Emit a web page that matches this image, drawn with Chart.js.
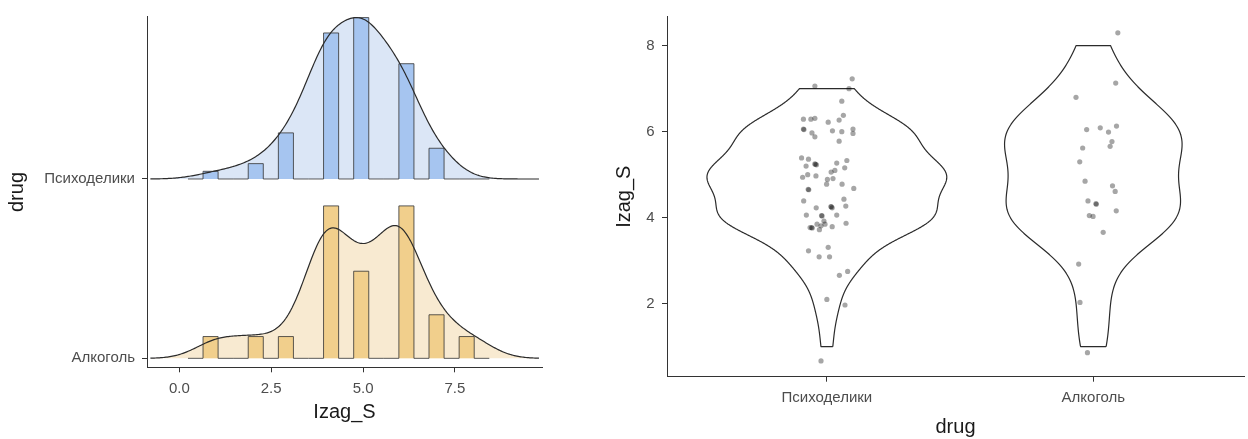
<!DOCTYPE html>
<html><head><meta charset="utf-8">
<script src="https://cdn.jsdelivr.net/npm/chart.js@4.4.1/dist/chart.umd.min.js"></script>
<style>
html,body{margin:0;padding:0;background:#fff;overflow:hidden;width:1248px;height:439px;}
#left{position:absolute;left:0;top:0;}
#right{position:absolute;left:580px;top:0;}
</style></head><body>
<canvas id="left" width="580" height="439"></canvas>
<canvas id="right" width="668" height="439"></canvas>
<script>
// ---------- DATA ----------
const drugCategories = ['Психоделики', 'Алкоголь'];
const scoreValues = [1, 2, 3, 4, 5, 6, 7, 8];
const psychCounts = [1, 2, 6, 19, 21, 15, 4, 0];
const alcCounts   = [1, 1, 1, 7, 4, 7, 2, 1];
const leftXTicks = [0, 2.5, 5, 7.5];
const rightYTicks = [2, 4, 6, 8];
const histBinStart = 0.235, histBinWidth = 0.41, histBinCount = 20;

const psychJitterX = [0.095,-0.045,0.083,0.056,0.062,-0.088,-0.060,-0.045,0.005,0.046,-0.088,-0.086,-0.056,-0.045,0.021,0.056,0.098,0.098,0.046,-0.095,-0.069,-0.078,-0.045,-0.043,-0.039,0.037,0.075,0.067,0.030,0.016,-0.072,-0.091,-0.041,0.023,0.002,-0.001,0.057,-0.070,-0.068,0.101,-0.087,0.064,-0.040,0.015,0.017,0.020,0.071,-0.077,-0.020,-0.018,-0.011,0.037,-0.037,-0.057,-0.055,-0.063,-0.022,-0.007,-0.028,0.020,0.072,-0.069,0.005,-0.029,0.010,0.047,0.078,0.000,0.068,-0.022];
const psychJitterY = [7.23,7.06,7.00,6.71,6.38,6.29,6.29,6.31,6.22,6.27,6.06,6.05,5.97,5.88,6.02,6.00,6.06,5.96,5.78,5.39,5.36,5.20,5.25,5.24,5.23,5.27,5.33,5.16,5.10,5.06,5.00,4.94,4.97,4.91,4.89,4.78,4.78,4.66,4.65,4.68,4.39,4.43,4.23,4.26,4.25,4.23,4.27,4.06,4.05,4.04,3.92,4.06,3.85,3.77,3.76,3.77,3.81,3.85,3.72,3.79,3.87,3.23,3.31,3.09,3.09,2.66,2.75,2.10,1.97,0.67];
const alcJitterX = [0.092,0.084,-0.065,-0.025,0.026,0.087,0.057,0.070,0.063,-0.040,-0.051,-0.031,0.072,0.082,-0.020,0.010,0.011,0.086,-0.015,-0.001,0.037,-0.055,-0.050,-0.022];
const alcJitterY = [8.30,7.13,6.80,6.05,6.09,6.13,5.99,5.77,5.66,5.62,5.30,4.85,4.74,4.61,4.39,4.33,4.31,4.16,4.05,4.03,3.66,2.92,2.03,0.86];

// ---------- STATS ----------
function sum(a){return a.reduce((s,v)=>s+v,0);}
function expand(vals, cnts){const o=[];vals.forEach((v,i)=>{for(let k=0;k<cnts[i];k++)o.push(v);});return o;}
function quantile(sorted,p){const h=(sorted.length-1)*p;const lo=Math.floor(h);const hi=Math.ceil(h);return sorted[lo]+(h-lo)*(sorted[hi]-sorted[lo]);}
function nrd0(vals,cnts){
  const x=expand(vals,cnts).sort((a,b)=>a-b);const n=x.length;
  const m=sum(x)/n;const sd=Math.sqrt(x.reduce((s,v)=>s+(v-m)*(v-m),0)/(n-1));
  const iqr=(quantile(x,0.75)-quantile(x,0.25))/1.34;
  return 0.9*Math.min(sd,iqr)*Math.pow(n,-0.2);
}
function kde(vals,cnts,bw,xs){
  const n=sum(cnts);
  return xs.map(x=>{let s=0;vals.forEach((v,i)=>{const z=(x-v)/bw;s+=cnts[i]*Math.exp(-0.5*z*z);});return s/(n*bw*Math.sqrt(2*Math.PI));});
}
function range(a,b,n){const o=[];for(let i=0;i<n;i++)o.push(a+(b-a)*i/(n-1));return o;}
function dataMin(cnts){return scoreValues[cnts.findIndex(c=>c>0)];}
function dataMax(cnts){let i=cnts.length-1;while(cnts[i]===0)i--;return scoreValues[i];}

const groupCounts=[psychCounts, alcCounts];
const bws=groupCounts.map(c=>nrd0(scoreValues,c));
const jointBw=sum(bws)/bws.length;
const allMin=Math.min(...groupCounts.map(dataMin)), allMax=Math.max(...groupCounts.map(dataMax));

// ridge densities
const ridgeXs=range(allMin-3*jointBw, allMax+3*jointBw, 300);
const ridgeD=groupCounts.map(c=>kde(scoreValues,c,jointBw,ridgeXs));
const ridgeMax=Math.max(...ridgeD.map(d=>Math.max(...d)));
const ridgeScale=0.9;
function ridgeBase(i){return drugCategories.length-i;}

// histograms
const histBins=groupCounts.map(c=>{
  const b=new Array(histBinCount).fill(0);
  scoreValues.forEach((v,i)=>{const k=Math.floor((v-histBinStart)/histBinWidth);b[k]+=c[i];});
  const n=sum(c);return b.map(x=>x/(n*histBinWidth));
});
const histMax=Math.max(...histBins.map(b=>Math.max(...b)));

function ridgeLine(i){return ridgeXs.map((x,j)=>({x:x,y:ridgeBase(i)+ridgeScale*ridgeD[i][j]/ridgeMax}));}
function histLine(i){
  const base=ridgeBase(i);const pts=[{x:histBinStart,y:base}];
  histBins[i].forEach((d,k)=>pts.push({x:histBinStart+k*histBinWidth,y:base+ridgeScale*d/histMax}));
  pts.push({x:histBinStart+histBinCount*histBinWidth,y:base});
  return pts;
}

// violins
const violinYs=groupCounts.map(c=>range(dataMin(c),dataMax(c),300));
const violinD=groupCounts.map((c,i)=>kde(scoreValues,c,bws[i],violinYs[i]));
const violinMax=Math.max(...violinD.map(d=>Math.max(...d)));
function violinPoly(i){
  const c=i+1;const ys=violinYs[i];const d=violinD[i];
  const right=ys.map((y,j)=>({x:c+0.45*d[j]/violinMax,y:y}));
  const left=ys.map((y,j)=>({x:c-0.45*d[j]/violinMax,y:y})).reverse();
  return right.concat(left,[right[0]]);
}
function jitterPts(xs,ys,i){return xs.map((dx,j)=>({x:i+1+dx,y:ys[j]}));}

// ---------- STYLE ----------
const FONT="'Liberation Sans', Arial, sans-serif";
const tickFont={family:FONT,size:15};
const titleFont={family:FONT,size:20};
const tickColor='#4d4d4d', titleColor='#1a1a1a', axisColor='#333';
const densFill=['#dbe6f6','#f8ead1'];
const barFill=['#a6c5f0','#f1cf8c'];

const axisCommon={
  grid:{drawOnChartArea:false,drawTicks:true,tickLength:5,color:axisColor,lineWidth:1},
  border:{display:true,color:axisColor,width:1}
};

const leftDatasets=[];
[0,1].forEach(i=>{
  leftDatasets.push({data:ridgeLine(i),showLine:true,pointRadius:0,borderColor:'#2b2b2b',borderWidth:1.2,fill:false,order:1});
});
[0,1].forEach(i=>{
  leftDatasets.push({data:histLine(i),showLine:true,stepped:true,pointRadius:0,borderColor:'rgba(50,50,50,0.8)',borderWidth:1,backgroundColor:barFill[i],fill:{value:ridgeBase(i)},order:2});
});
[0,1].forEach(i=>{
  leftDatasets.push({data:ridgeLine(i),showLine:true,pointRadius:0,borderWidth:0,borderColor:'rgba(0,0,0,0)',backgroundColor:densFill[i],fill:{value:ridgeBase(i)},order:3});
});

new Chart(document.getElementById('left'),{
  type:'scatter',
  data:{datasets:leftDatasets},
  options:{
    responsive:false,animation:false,devicePixelRatio:1,
    layout:{padding:{top:16.7,right:38,left:0,bottom:0}},
    plugins:{legend:{display:false},tooltip:{enabled:false}},
    events:[],
    scales:{
      x:Object.assign({},axisCommon,{type:'linear',min:-0.88,max:9.87,
        afterBuildTicks:s=>{s.ticks=leftXTicks.map(v=>({value:v}));},
        afterFit:s=>{s.height=71.7;},
        ticks:{callback:v=>Number(v).toFixed(1),color:tickColor,font:tickFont,padding:7.5,maxRotation:0,autoSkip:false},
        title:{display:true,text:'Izag_S',color:titleColor,font:titleFont,padding:{top:0,bottom:15}}}),
      y:Object.assign({},axisCommon,{type:'linear',min:0.95,max:2.905,
        afterBuildTicks:s=>{s.ticks=drugCategories.map((c,i)=>({value:ridgeBase(i)}));},
        afterFit:s=>{s.width=147;},
        ticks:{callback:v=>drugCategories[drugCategories.length-v],color:tickColor,font:tickFont,padding:7,autoSkip:false},
        title:{display:true,text:'drug',color:titleColor,font:titleFont,padding:{top:5,bottom:0}}})
    }
  }
});

const rightDatasets=[];
[0,1].forEach(i=>{
  rightDatasets.push({data:violinPoly(i),showLine:true,tension:0.01,pointRadius:0,borderColor:'#2b2b2b',borderWidth:1.2,fill:false,order:2});
});
rightDatasets.push({data:jitterPts(psychJitterX,psychJitterY,0),pointRadius:2.6,pointBorderWidth:0,backgroundColor:'rgba(0,0,0,0.35)',borderColor:'rgba(0,0,0,0)',order:1});
rightDatasets.push({data:jitterPts(alcJitterX,alcJitterY,1),pointRadius:2.6,pointBorderWidth:0,backgroundColor:'rgba(0,0,0,0.35)',borderColor:'rgba(0,0,0,0)',order:1});

new Chart(document.getElementById('right'),{
  type:'scatter',
  data:{datasets:rightDatasets},
  options:{
    responsive:false,animation:false,devicePixelRatio:1,
    layout:{padding:{top:16.7,right:0,left:0,bottom:0}},
    plugins:{legend:{display:false},tooltip:{enabled:false}},
    events:[],
    scales:{
      x:Object.assign({},axisCommon,{type:'linear',min:0.4,max:2.5655,
        afterBuildTicks:s=>{s.ticks=drugCategories.map((c,i)=>({value:i+1}));},
        afterFit:s=>{s.height=62.3;},
        ticks:{callback:v=>drugCategories[v-1],color:tickColor,font:tickFont,padding:7.5,maxRotation:0,autoSkip:false},
        title:{display:true,text:'drug',color:titleColor,font:titleFont,padding:{top:0,bottom:0}}}),
      y:Object.assign({},axisCommon,{type:'linear',min:0.302,max:8.674,
        afterBuildTicks:s=>{s.ticks=rightYTicks.map(v=>({value:v}));},
        afterFit:s=>{s.width=87;},
        ticks:{color:tickColor,font:tickFont,padding:7.5,autoSkip:false},
        title:{display:true,text:'Izag_S',color:titleColor,font:titleFont,padding:{top:32,bottom:0}}})
    }
  }
});
</script>
</body></html>
